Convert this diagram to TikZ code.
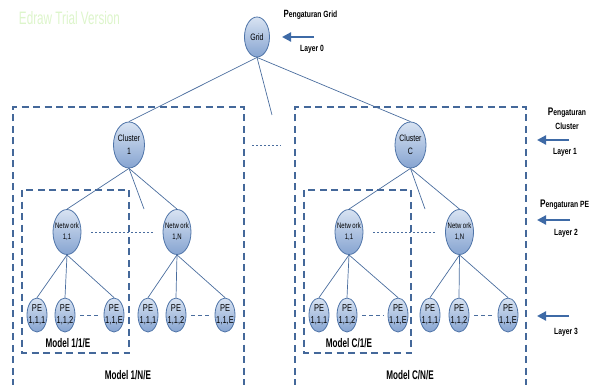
\documentclass[tikz,border=0pt]{standalone}
\usepackage{fontspec}
\setmainfont[FakeStretch=0.75]{Liberation Sans}
\newfontfamily\mfont[FakeStretch=0.65]{Liberation Sans}
\usetikzlibrary{shapes.geometric,arrows.meta}
\definecolor{edge}{HTML}{4A6D9E}
\definecolor{rim}{HTML}{4F74A8}
\definecolor{ftop}{HTML}{D8E3F2}
\definecolor{fbot}{HTML}{86A4D1}
\definecolor{boxc}{HTML}{44689A}
\definecolor{arrc}{HTML}{3E6AA6}
\definecolor{wm}{HTML}{DDF5CB}
\begin{document}
\begin{tikzpicture}[x=1pt,y=-1pt,
 nd/.style={ellipse, draw=rim, line width=0.8pt, top color=ftop, bottom color=fbot, inner xsep=-4pt, inner ysep=-4pt, align=center},
 gridn/.style={nd, minimum width=25pt, minimum height=40pt, font=\fontsize{9.3}{10}\selectfont},
 clus/.style={nd, minimum width=31pt, minimum height=46pt, font=\fontsize{9.3}{13}\selectfont},
 net/.style={nd, minimum width=28pt, minimum height=45pt, font=\fontsize{8}{11}\selectfont},
 pe/.style={nd, minimum width=20pt, minimum height=34pt, font=\fontsize{10}{12}\selectfont},
 link/.style={draw=edge, line width=0.7pt},
 bigbox/.style={draw=boxc, line width=1.4pt, dash pattern=on 7pt off 4.5pt},
 dots/.style={draw=edge, line width=0.7pt, dash pattern=on 2pt off 2pt},
 pedash/.style={draw=edge, line width=0.9pt, dash pattern=on 4pt off 3pt},
 layerarrow/.style={draw=arrc, line width=2.2pt, -{Triangle[length=9pt,width=9pt]}},
 lbl/.style={font=\bfseries\fontsize{9}{14}\selectfont, inner sep=0pt, align=center},
 mdl/.style={font=\mfont\bfseries\fontsize{12.5}{14}\selectfont, inner sep=0pt}
]
\useasboundingbox (0,0) rectangle (592,385);

% watermark
\node[text=wm, font=\mfont\fontsize{18}{18}\selectfont, inner sep=0pt] (wmark) at (69.5,18) {Edraw Trial Version};

% dashed group boxes
\draw[bigbox] (13,386) -- (13,107) -- (244,107) -- (244,386);
\draw[bigbox] (295,386) -- (295,107) -- (526,107) -- (526,386);
\draw[bigbox] (22,190) rectangle (129,353);
\draw[bigbox] (304,190) rectangle (411,353);

% nodes
\node[gridn] (grid) at (257,37) {Grid};
\node[clus] (c1) at (129,145) {Cluster\\1};
\node[clus] (cC) at (410.5,145) {Cluster\\C};

\node[net] (n11a) at (67,232) {Netw ork\\1,1};
\node[net] (n1Na) at (177,232) {Netw ork\\1,N};
\node[net] (n11b) at (349,232) {Netw ork\\1,1};
\node[net] (n1Nb) at (459.5,232) {Netw ork\\1,N};

\node[pe] (pa1) at (37,315) {PE\\1,1,1};
\node[pe] (pa2) at (65,315) {PE\\1,1,2};
\node[pe] (pa3) at (114,315) {PE\\1,1,E};
\node[pe] (pb1) at (148,315) {PE\\1,1,1};
\node[pe] (pb2) at (176,315) {PE\\1,1,2};
\node[pe] (pb3) at (225,315) {PE\\1,1,E};
\node[pe] (pc1) at (319,315) {PE\\1,1,1};
\node[pe] (pc2) at (347,315) {PE\\1,1,2};
\node[pe] (pc3) at (398,315) {PE\\1,1,E};
\node[pe] (pd1) at (430,315) {PE\\1,1,1};
\node[pe] (pd2) at (459,315) {PE\\1,1,2};
\node[pe] (pd3) at (508,315) {PE\\1,1,E};

% free ends
\coordinate (gmid) at (272,115);
\coordinate (c1mid) at (144,209);
\coordinate (cCmid) at (425,209);
\coordinate (dl) at (252,145);
\coordinate (dr) at (281,145);

% connectors
\draw[link] (grid.south) -- (c1.north);
\draw[link] (grid.south) -- (cC.north);
\draw[link] (grid.south) -- (gmid);
\draw[link] (c1.south) -- (n11a.north);
\draw[link] (c1.south) -- (n1Na.north);
\draw[link] (c1.south) -- (c1mid);
\draw[link] (cC.south) -- (n11b.north);
\draw[link] (cC.south) -- (n1Nb.north);
\draw[link] (cC.south) -- (cCmid);
\foreach \n/\a/\b/\c in {n11a/pa1/pa2/pa3, n1Na/pb1/pb2/pb3, n11b/pc1/pc2/pc3, n1Nb/pd1/pd2/pd3}{
  \draw[link] (\n.south) -- (\a.north);
  \draw[link] (\n.south) -- (\b.north);
  \draw[link] (\n.south) -- (\c.north);
}
\draw[dots] (dl) -- (dr);
\draw[dots, shorten <=10pt, shorten >=9pt] (n11a.east) -- (n1Na.west);
\draw[dots, shorten <=10pt, shorten >=9pt] (n11b.east) -- (n1Nb.west);
\foreach \a/\b in {pa2/pa3, pb2/pb3, pc2/pc3, pd2/pd3}{
  \draw[pedash, shorten <=5pt, shorten >=4pt] (\a.east) -- (\b.west);
}

% layer labels and arrows
\node[lbl] (t0) at (310.5,15) {{\fontsize{10.5}{10}\selectfont P}engaturan Grid};
\coordinate (a0s) at (314,37); \coordinate (a0e) at (282,37);
\draw[layerarrow] (a0s) -- (a0e);
\node[lbl] (l0) at (312,49) {Layer 0};

\node[lbl] (t1) at (567,119) {{\fontsize{11}{10}\selectfont P}engaturan\\Cluster};
\coordinate (a1s) at (569,140); \coordinate (a1e) at (537,140);
\draw[layerarrow] (a1s) -- (a1e);
\node[lbl] (l1) at (565,152) {Layer 1};

\node[lbl, anchor=west] (t2) at (540,205) {{\fontsize{11}{10}\selectfont P}engaturan PE};
\coordinate (a2s) at (570,220); \coordinate (a2e) at (537,220);
\draw[layerarrow] (a2s) -- (a2e);
\node[lbl] (l2) at (566,233) {Layer 2};

\coordinate (a3s) at (569,316); \coordinate (a3e) at (537,316);
\draw[layerarrow] (a3s) -- (a3e);
\node[lbl] (l3) at (566,332) {Layer 3};

% model labels
\node[mdl] (m1) at (68,343) {Model 1/1/E};
\node[mdl] (m2) at (128,375) {Model 1/N/E};
\node[mdl] (m3) at (349,343) {Model C/1/E};
\node[mdl] (m4) at (410,375) {Model C/N/E};
\end{tikzpicture}
\end{document}
